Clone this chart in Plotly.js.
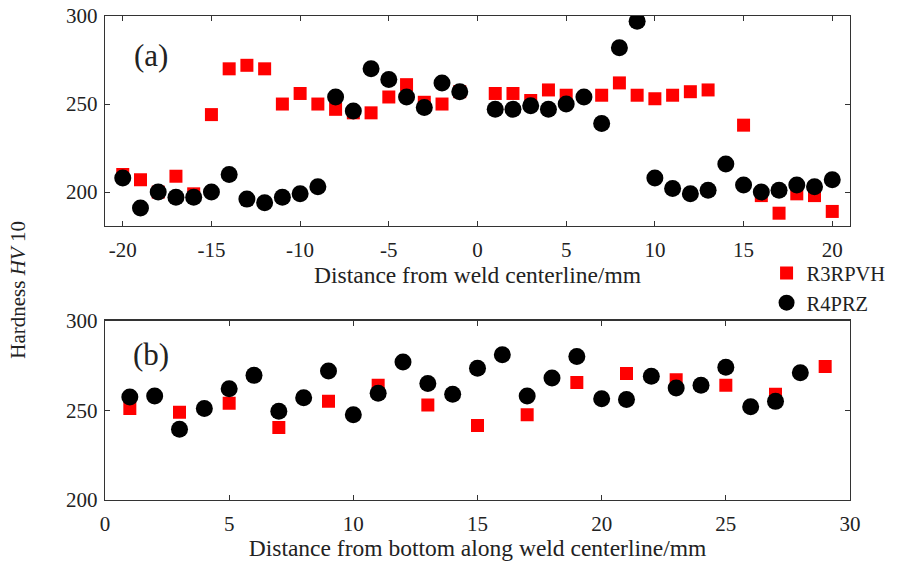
<!DOCTYPE html>
<html>
<head>
<meta charset="utf-8">
<script src="https://cdn.plot.ly/plotly-3.0.1.min.js"></script>
<style>html,body{margin:0;padding:0;background:#fff;}</style>
</head>
<body>
<div id="chart" style="width:900px;height:563px;"></div>
<script>
// Panel (a): distance from weld centerline (mm)
const aRedX = [-20,-19,-18,-17,-16,-15,-14,-13,-12,-11,-10,-9,-8,-7,-6,-5,-4,-3,-2,-1,1,2,3,4,5,7,8,9,10,11,12,13,15,16,17,18,19,20];
const aRedY = [210,207,200,209,199,244,270,272,270,250,256,250,247,245,245,254,261,251,250,257,256,256,252,258,255,255,262,255,253,255,257,258,238,198,188,199,198,189];
const aBlackX = [-20,-19,-18,-17,-16,-15,-14,-13,-12,-11,-10,-9,-8,-7,-6,-5,-4,-3,-2,-1,1,2,3,4,5,6,7,8,9,10,11,12,13,14,15,16,17,18,19,20];
const aBlackY = [208,191,200,197,197,200,210,196,194,197,199,203,254,246,270,264,254,248,262,257,247,247,249,247,250,254,239,282,297,208,202,199,201,216,204,200,201,204,203,207];
// Panel (b): distance from bottom along weld centerline (mm)
const bRedX = [1,3,5,7,9,11,13,15,17,19,21,23,25,27,29];
const bRedY = [251,249,254,240.5,255,264,253,241.5,247.5,265.5,270.5,267,264,259,274.5];
const bBlackX = [1,2,3,4,5,6,7,8,9,10,11,12,13,14,15,16,17,18,19,20,21,22,23,24,25,26,27,28];
const bBlackY = [257.5,258,239.5,251,262,269.5,249.5,257,272,247.5,259.5,277,265,259,273.5,281,258,268,280,256.5,256,269,262.5,264,274,252,255,271];
// Tick labels
const aTickVals = [-20,-15,-10,-5,0,5,10,15,20];
const aTickText = ["-20","-15","-10","-5","0","5","10","15","20"];
const bTickVals = [0,5,10,15,20,25,30];
const yTickVals = [200,250,300];
const seriesNames = ["R3RPVH","R4PRZ"];

const FONT = "Liberation Serif, Times New Roman, serif";
const RED = "#ff0000";

const traces = [
  {x:aRedX, y:aRedY, type:"scatter", mode:"markers", name:seriesNames[0], xaxis:"x", yaxis:"y",
   marker:{symbol:"square", size:13, color:RED}, legendgroup:"r"},
  {x:aBlackX, y:aBlackY, type:"scatter", mode:"markers", name:seriesNames[1], xaxis:"x", yaxis:"y",
   marker:{symbol:"circle", size:17, color:"#000"}, legendgroup:"b"},
  {x:bRedX, y:bRedY, type:"scatter", mode:"markers", name:seriesNames[0], xaxis:"x2", yaxis:"y2",
   marker:{symbol:"square", size:13, color:RED}, legendgroup:"r", showlegend:false},
  {x:bBlackX, y:bBlackY, type:"scatter", mode:"markers", name:seriesNames[1], xaxis:"x2", yaxis:"y2",
   marker:{symbol:"circle", size:17, color:"#000"}, legendgroup:"b", showlegend:false}
];

const axCommon = {
  showline:true, linecolor:"#333", linewidth:1.3, mirror:"ticks",
  ticks:"inside", ticklen:5, tickwidth:1, tickcolor:"#333",
  showgrid:false, zeroline:false,
  tickfont:{family:FONT, size:21, color:"#222"}
};
const xTitleFont = {family:FONT, size:23.5, color:"#222"};

const layout = {
  width:900, height:563,
  margin:{l:105, r:50, t:16, b:63, autoexpand:false},
  paper_bgcolor:"#fff", plot_bgcolor:"#fff",
  font:{family:FONT, color:"#222"},
  showlegend:true,
  legend:{x:0.888, y:0.51, xanchor:"left", yanchor:"top", bgcolor:"rgba(0,0,0,0)",
          font:{family:FONT, size:20.5, color:"#222"}, tracegroupgap:0, itemsizing:"trace"},
  xaxis:Object.assign({}, axCommon, {domain:[0,1], range:[-21,21], anchor:"y",
          tickmode:"array", tickvals:aTickVals, ticktext:aTickText, ticklabelstandoff:4,
          title:{text:"Distance from weld centerline/mm", font:xTitleFont, standoff:2}}),
  yaxis:Object.assign({}, axCommon, {domain:[0.566,1], range:[180.7,300], anchor:"x",
          tickmode:"array", tickvals:yTickVals, ticklabelstandoff:2}),
  xaxis2:Object.assign({}, axCommon, {domain:[0,1], range:[0,30], anchor:"y2",
          tickmode:"array", tickvals:bTickVals, ticklabelstandoff:4,
          title:{text:"Distance from bottom along weld centerline/mm", font:xTitleFont, standoff:2}}),
  yaxis2:Object.assign({}, axCommon, {domain:[0,0.3705], range:[200,300], anchor:"x2",
          tickmode:"array", tickvals:yTickVals, ticklabelstandoff:2}),
  annotations:[
    {text:"Hardness <i>HV</i> 10", xref:"paper", yref:"paper", x:-0.117, y:0.434,
     textangle:-90, showarrow:false, font:{family:FONT, size:21, color:"#222"}, xanchor:"center", yanchor:"middle"},
    {text:"(a)", xref:"paper", yref:"paper", x:0.062, y:0.919, showarrow:false,
     font:{family:FONT, size:31, color:"#222"}, xanchor:"center", yanchor:"middle"},
    {text:"(b)", xref:"paper", yref:"paper", x:0.062, y:0.2996, showarrow:false,
     font:{family:FONT, size:31, color:"#222"}, xanchor:"center", yanchor:"middle"}
  ]
};

Plotly.newPlot("chart", traces, layout, {displayModeBar:false, staticPlot:true});
</script>
</body>
</html>
